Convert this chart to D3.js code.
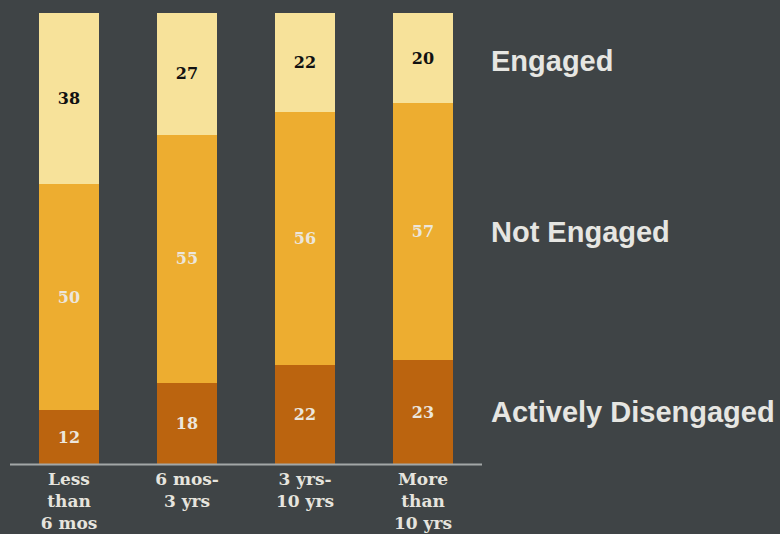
<!DOCTYPE html>
<html><head><meta charset="utf-8">
<script src="https://cdn.jsdelivr.net/npm/d3@7"></script>
<style>html,body{margin:0;padding:0;background:#3f4446;}svg{display:block;}</style>
</head><body>
<svg id="c" width="780" height="534"></svg>
<script>
const categories = [["Less","than","6 mos"],["6 mos-","3 yrs"],["3 yrs-","10 yrs"],["More","than","10 yrs"]];
const categoryKeys = ["Less than 6 mos","6 mos-3 yrs","3 yrs-10 yrs","More than 10 yrs"];
const activelyDisengaged = [12,18,22,23];
const notEngaged = [50,55,56,57];
const engaged = [38,27,22,20];
const seriesNames = ["Actively Disengaged","Not Engaged","Engaged"];
const seriesColors = ["#bb640f","#edad30","#f7e29a"];
const labelColors = ["#ece6dc","#ece6dc","#111111"];

const svg = d3.select("#c");
const x = d3.scaleBand().domain(categoryKeys).range([10,482]).paddingInner(58/118).paddingOuter(29/118);
const y = d3.scaleLinear().domain([0,100]).range([464,13]);

const rows = categoryKeys.map((k,i)=>({key:k, "Actively Disengaged":activelyDisengaged[i], "Not Engaged":notEngaged[i], "Engaged":engaged[i]}));
const stack = d3.stack().keys(seriesNames)(rows);

const g = svg.append("g").attr("shape-rendering","crispEdges");
stack.forEach((layer,si)=>{
  const lg = g.append("g");
  lg.selectAll("rect").data(layer).join("rect")
    .attr("x",d=>x(d.data.key)).attr("width",x.bandwidth())
    .attr("y",d=>y(d[1])).attr("height",d=>y(d[0])-y(d[1]))
    .attr("fill",seriesColors[si]);
});
stack.forEach((layer,si)=>{
  svg.append("g").selectAll("text").data(layer).join("text")
    .attr("x",d=>x(d.data.key)+x.bandwidth()/2)
    .attr("y",d=>(y(d[0])+y(d[1]))/2)
    .attr("dy","0.35em").attr("text-anchor","middle")
    .attr("font-family","'DejaVu Serif', serif").attr("font-weight","bold").attr("font-size",16)
    .attr("fill",labelColors[si])
    .text(d=>d[1]-d[0]);
});

// axis line
svg.append("line").attr("x1",10).attr("x2",482).attr("y1",464.5).attr("y2",464.5)
  .attr("stroke","#a3a7a7").attr("stroke-width",2);

// category labels
categoryKeys.forEach((k,i)=>{
  const t = svg.append("text").attr("text-anchor","middle")
    .attr("font-family","'DejaVu Serif', serif").attr("font-weight","bold").attr("font-size",17)
    .attr("fill","#e6e4de");
  categories[i].forEach((line,j)=>{
    t.append("tspan").attr("x",x(k)+x.bandwidth()/2).attr("y",485+j*22).text(line);
  });
});

// legend aligned with last bar segments
const last = stack.map(layer=>layer[layer.length-1]);
last.forEach((d,si)=>{
  svg.append("text").attr("x",491).attr("y",(y(d[0])+y(d[1]))/2 + (si===2?3:0))
    .attr("dy","0.35em")
    .attr("font-family","'Liberation Sans', Arial, sans-serif").attr("font-weight","bold").attr("font-size",29)
    .attr("fill","#e6e6e2").text(seriesNames[si]);
});
</script>
</body></html>
